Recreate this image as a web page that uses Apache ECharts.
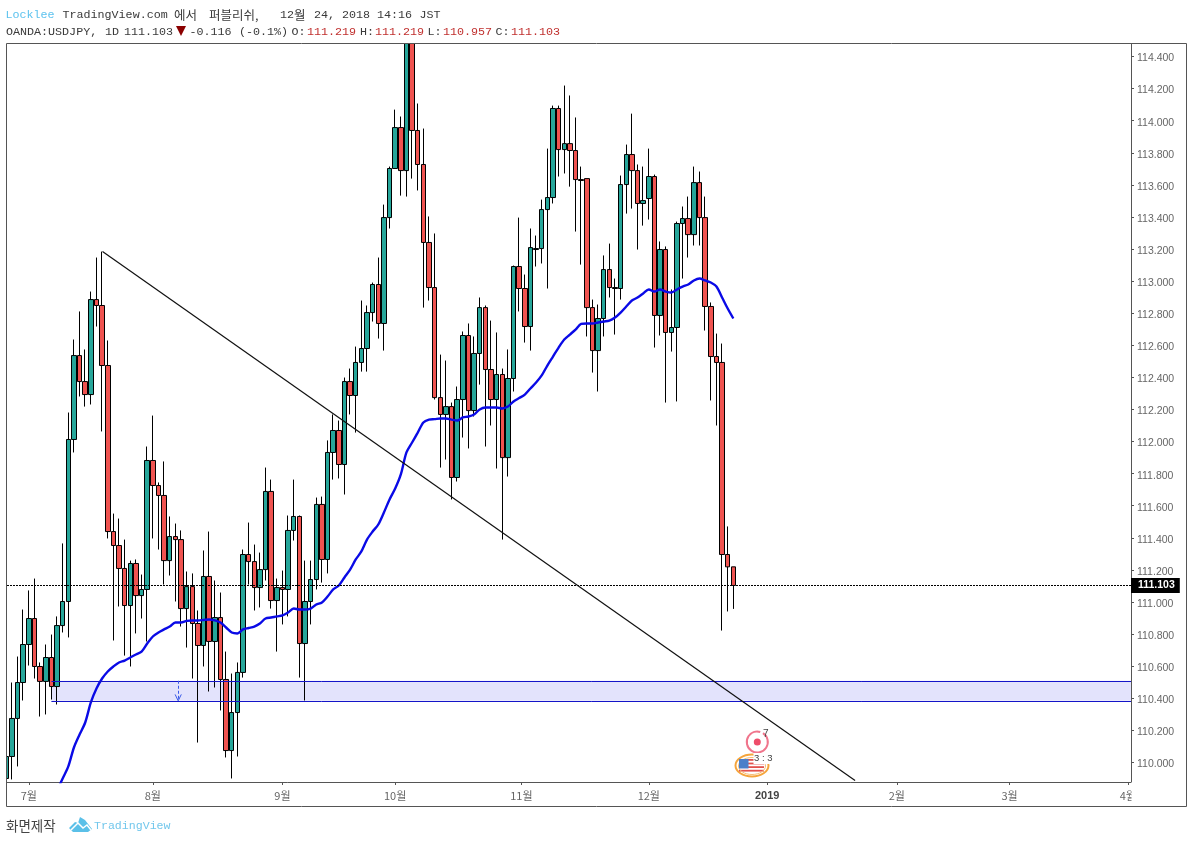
<!DOCTYPE html>
<html>
<head>
<meta charset="utf-8">
<title>USDJPY 1D</title>
<script src="https://cdn.jsdelivr.net/npm/echarts@6/dist/echarts.min.js"></script>
<style>html,body{margin:0;padding:0;background:#fff}#chart{width:1188px;height:843px}</style>
</head>
<body>
<div id="chart"></div>
<script>
// Daily OANDA:USDJPY bars; firstBar is the bar index of the first entry, 0 = 2 July 2018
const firstBar = -4;
const opens = [109.900,110.037,110.274,110.498,110.735,110.897,110.598,110.505,110.654,110.473,110.853,111.003,112.013,112.536,112.374,112.293,112.885,112.848,112.474,111.439,111.352,111.209,110.978,111.240,111.040,111.078,111.882,111.726,111.664,111.258,111.408,111.389,110.959,111.096,110.866,110.729,111.159,110.754,110.903,110.517,110.074,110.311,110.561,111.296,111.252,111.090,111.202,111.689,111.009,111.090,111.078,111.446,111.533,110.741,111.003,111.140,111.608,111.265,111.932,112.069,111.857,112.374,112.287,112.493,112.580,112.804,112.979,112.736,113.396,113.702,113.957,113.689,114.520,113.939,113.727,113.241,112.960,112.274,112.169,112.218,111.776,112.262,112.661,112.193,112.549,112.835,112.449,112.262,112.418,111.900,112.393,113.091,112.954,112.717,113.197,113.203,113.446,113.521,114.076,113.820,113.857,113.814,113.633,113.639,112.835,112.567,112.767,113.072,112.960,112.954,113.602,113.789,113.689,113.484,113.515,113.652,112.786,113.197,112.680,112.711,113.359,113.390,113.290,113.614,113.396,112.842,112.530,112.493,111.296,111.219];
const closes = [110.037,110.274,110.498,110.735,110.897,110.598,110.505,110.654,110.473,110.853,111.003,112.013,112.536,112.374,112.293,112.885,112.848,112.474,111.439,111.352,111.209,110.978,111.240,111.040,111.078,111.882,111.726,111.664,111.258,111.408,111.389,110.959,111.096,110.866,110.729,111.159,110.754,110.903,110.517,110.074,110.311,110.561,111.296,111.252,111.090,111.202,111.689,111.009,111.090,111.078,111.446,111.533,110.741,111.003,111.140,111.608,111.265,111.932,112.069,111.857,112.374,112.287,112.493,112.580,112.804,112.979,112.736,113.396,113.702,113.957,113.689,114.520,113.939,113.727,113.241,112.960,112.274,112.169,112.218,111.776,112.262,112.661,112.193,112.549,112.835,112.449,112.262,112.418,111.900,112.393,113.091,112.954,112.717,113.209,113.203,113.446,113.521,114.076,113.820,113.857,113.814,113.633,113.627,112.835,112.567,112.767,113.072,112.960,112.954,113.602,113.789,113.689,113.484,113.502,113.652,112.786,113.197,112.680,112.711,113.359,113.390,113.290,113.614,113.396,112.842,112.530,112.493,111.296,111.219,111.103];
const lows = [109.885,109.894,109.975,110.386,110.604,110.523,110.286,110.299,110.392,110.361,110.810,110.779,111.932,112.281,112.218,112.231,112.717,112.063,111.396,110.760,110.972,110.666,110.598,110.804,110.897,110.754,111.396,111.327,111.109,111.165,111.003,110.847,110.716,110.523,110.124,110.598,110.442,110.467,110.324,110.031,109.900,110.037,110.529,111.109,110.947,110.966,111.134,110.959,110.691,110.860,110.910,111.383,110.529,110.386,110.860,111.078,111.121,111.178,111.763,111.770,111.670,112.169,112.056,112.436,112.436,112.748,112.642,112.567,113.328,113.702,113.533,113.527,113.639,113.565,112.835,112.879,112.262,111.838,111.888,111.639,111.751,112.025,111.957,112.156,112.355,111.969,112.100,111.832,111.389,111.782,112.312,112.811,112.617,112.567,113.091,113.110,112.954,113.484,113.652,113.671,113.589,113.309,113.103,112.655,112.430,112.312,112.655,112.898,112.667,112.885,113.421,113.452,113.197,113.346,113.384,112.586,112.661,112.243,112.561,112.250,113.016,113.147,113.222,113.222,112.692,112.256,112.100,110.822,110.941,110.957];
const highs = [110.112,110.498,110.660,110.953,111.072,111.146,110.623,110.735,110.797,110.910,111.365,112.181,112.636,112.811,112.574,112.935,113.147,113.184,112.630,111.551,111.520,111.389,111.258,111.265,111.171,111.969,112.162,111.745,111.876,111.533,111.489,111.446,111.190,111.178,110.947,111.321,111.439,111.134,111.059,110.691,110.554,110.623,111.327,111.495,111.358,111.308,111.838,111.763,111.146,111.196,111.539,111.763,111.539,111.258,111.258,111.651,111.657,112.007,112.169,112.131,112.399,112.455,112.592,112.879,112.848,112.991,113.147,113.477,113.714,114.069,114.026,114.600,114.620,114.107,113.951,113.403,113.297,112.542,112.505,112.243,112.343,112.686,112.736,112.655,112.898,112.848,112.754,112.680,112.455,112.574,113.097,113.396,113.041,113.328,113.284,113.508,113.826,114.094,114.094,114.219,114.157,114.020,113.714,113.639,112.885,112.854,113.160,113.234,113.016,113.658,113.851,114.044,113.727,113.714,113.826,113.664,113.247,113.216,112.948,113.371,113.465,113.527,113.714,113.683,113.527,112.867,112.673,112.611,111.471,111.219];

// 50-period moving average, starting at bar 5
const maFirstBar = 5;
const ma50 = [109.825,109.900,109.975,110.093,110.174,110.249,110.374,110.461,110.523,110.567,110.598,110.623,110.635,110.654,110.673,110.691,110.741,110.785,110.810,110.829,110.847,110.872,110.872,110.882,110.885,110.885,110.888,110.891,110.885,110.872,110.841,110.810,110.804,110.829,110.838,110.847,110.866,110.897,110.903,110.910,110.916,110.935,110.959,110.953,110.953,110.959,110.984,110.997,111.034,111.078,111.103,111.153,111.202,111.265,111.315,111.389,111.439,111.483,111.558,111.639,111.707,111.795,111.932,111.994,112.056,112.119,112.137,112.140,112.144,112.144,112.137,112.131,112.150,112.156,112.169,112.200,112.212,112.212,112.212,112.206,112.218,112.250,112.271,112.293,112.331,112.368,112.412,112.474,112.530,112.586,112.636,112.667,112.698,112.733,112.736,112.736,112.742,112.748,112.754,112.773,112.804,112.842,112.879,112.898,112.923,112.948,112.935,112.948,112.935,112.929,112.948,112.966,112.979,113.004,113.016,113.004,112.991,112.966,112.898,112.829,112.767];

// Month ticks on the bar axis
const monthTickBars = [0,22,45,65,87.4,110,131,154,174,195];
const monthTickLabels = ['7월','8월','9월','10월','11월','12월','2019','2월','3월','4월'];

// Price axis
const priceTicks = [110,110.2,110.4,110.6,110.8,111,111.2,111.4,111.6,111.8,112,112.2,112.4,112.6,112.8,113,113.2,113.4,113.6,113.8,114,114.2,114.4];
const lastPrice = 111.103;

// Hand-drawn objects: trend line, support zone, alert arrow
const trendFrom = [13.07,113.184];
const trendTo = [146.6,109.887];
const zoneStartBar = 4;
const zoneTop = 110.509;
const zoneBottom = 110.384;
const arrowBar = 26.5;

const barMin = -3.877, barMax = 195.56, priceMin = 109.878, priceMax = 114.478;

const candles = opens.map((o, k) => [firstBar + k, o, closes[k], lows[k], highs[k]]);
const maLine = ma50.map((v, k) => [maFirstBar + k, v]);

const MONO = '"Liberation Mono", monospace';
const KR = '"Noto Sans CJK KR", sans-serif';
const SANS = '"Liberation Sans", Arial, sans-serif';
const DARK = '#3a3a3a', RED = '#c0302e', SKY = '#5cc2ee';

function t(text, x, y, fill, font) {
  return { type: 'text', z: 100, silent: true, x: x, y: y, style: { text: text, fill: fill || DARK, font: font || '11.7px ' + MONO, textVerticalAlign: 'middle' } };
}

const headerTexts = [
  t('Locklee', 5.5, 15, SKY), t('TradingView.com', 62.5, 15),
  t('에서', 174, 15, DARK, '12.5px ' + KR), t('퍼블리쉬,', 209, 15, DARK, '12.5px ' + KR),
  t('12', 280, 15), t('월', 294, 15, DARK, '12.5px ' + KR), t('24,', 314, 15), t('2018', 342, 15), t('14:16', 377, 15), t('JST', 419.5, 15),
  t('OANDA:USDJPY,', 6, 31.5), t('1D', 105, 31.5), t('111.103', 124, 31.5),
  t('-0.116', 189.5, 31.5), t('(-0.1%)', 239, 31.5),
  t('O:', 291.5, 31.5), t('111.219', 307, 31.5, RED),
  t('H:', 360, 31.5), t('111.219', 375, 31.5, RED),
  t('L:', 427.5, 31.5), t('110.957', 443, 31.5, RED),
  t('C:', 495.5, 31.5), t('111.103', 511, 31.5, RED)
];

const flagStripes = [0, 1, 2, 3].map(k => ({
  type: 'rect', z: 90, silent: true,
  shape: { x: 739, y: 759 + k * 3.6, width: 25, height: 1.8 }, style: { fill: '#e2514c' }
}));

const graphics = [
  // masks that keep the candles inside the plot, and the corner under the price axis
  { type: 'rect', z: 80, silent: true, shape: { x: 0, y: 0, width: 1188, height: 43 }, style: { fill: '#fff' } },
  { type: 'rect', z: 80, silent: true, shape: { x: 0, y: 43, width: 6.5, height: 770 }, style: { fill: '#fff' } },
  { type: 'rect', z: 80, silent: true, shape: { x: 1131.5, y: 782.5, width: 54, height: 23 }, style: { fill: '#fff' } },
  { type: 'rect', z: 95, silent: true, shape: { x: 6.5, y: 43.5, width: 1180, height: 763 }, style: { fill: 'none', stroke: '#555', lineWidth: 1 } },
  { type: 'polygon', z: 100, silent: true, shape: { points: [[176, 26], [186, 26], [181, 36]] }, style: { fill: '#8b0000' } },
  // earnings and economic-event markers
  { type: 'arc', z: 90, silent: true, shape: { cx: 757.3, cy: 742, r: 10.5, startAngle: -1.0, endAngle: 5.0 }, style: { fill: 'none', stroke: '#f0758c', lineWidth: 2 } },
  { type: 'circle', z: 90, silent: true, shape: { cx: 757.3, cy: 742, r: 3.5 }, style: { fill: '#ee4d6a' } },
  t('7', 763, 734, '#444', '10px ' + SANS),
  { type: 'ellipse', z: 89, silent: true, shape: { cx: 752, cy: 765.5, rx: 16.5, ry: 11 }, style: { fill: '#fff', stroke: '#f5a53c', lineWidth: 2 } },
  ...flagStripes,
  { type: 'ellipse', z: 90, silent: true, shape: { cx: 752, cy: 766, rx: 13.5, ry: 8.5 }, style: { fill: 'none', stroke: '#f7bd74', lineWidth: 1 } },
  { type: 'rect', z: 91, silent: true, shape: { x: 739, y: 759, width: 9.5, height: 9.5 }, style: { fill: '#4a7fc9' } },
  { type: 'rect', z: 92, silent: true, shape: { x: 753.5, y: 753, width: 19, height: 11 }, style: { fill: '#fff' } },
  t('3 : 3', 754, 758.5, '#444', '9.5px ' + SANS),
  // footer
  t('화면제작', 6, 826, '#444', '13.5px ' + KR),
  { type: 'polygon', z: 100, silent: true, shape: { points: [[69, 828], [75, 822], [78, 823], [80, 817], [85, 820], [92, 829], [88, 832], [73, 832]] }, style: { fill: '#5bc0e8' } },
  { type: 'polyline', z: 101, silent: true, shape: { points: [[71, 830], [78, 823], [83, 828], [87, 825], [91, 830]] }, style: { fill: 'none', stroke: '#fff', lineWidth: 1.5 } },
  t('TradingView', 94, 826, '#72c7ec', '11.6px ' + MONO),
  ...headerTexts
];

const chart = echarts.init(document.getElementById('chart'), null, { renderer: 'canvas' });
chart.setOption({
  animation: false,
  backgroundColor: '#ffffff',
  grid: { left: 7, right: 57, top: 44, bottom: 61, containLabel: false },
  xAxis: {
    type: 'value', min: barMin, max: barMax, splitLine: { show: false },
    axisLine: { onZero: false, lineStyle: { color: '#555', width: 1 } },
    axisTick: { length: 3, lineStyle: { color: '#555' }, customValues: monthTickBars },
    axisLabel: {
      customValues: monthTickBars, margin: 8, color: '#666', fontSize: 11, fontFamily: KR,
      formatter: v => {
        const s = monthTickLabels[monthTickBars.indexOf(v)];
        return s === '2019' ? '{b|2019}' : s;
      },
      rich: { b: { fontWeight: 'bold', color: '#444', fontSize: 11, fontFamily: SANS } }
    }
  },
  yAxis: {
    type: 'value', position: 'right', min: priceMin, max: priceMax, scale: true, splitLine: { show: false },
    axisLine: { show: true, onZero: false, lineStyle: { color: '#555', width: 1 } },
    axisTick: { show: true, length: 3, lineStyle: { color: '#555' }, customValues: priceTicks },
    axisLabel: {
      customValues: priceTicks, margin: 6, color: '#666', fontSize: 10.5, fontFamily: SANS,
      verticalAlign: 'top', lineHeight: 9,
      formatter: v => '{p|' + v.toFixed(3) + '}',
      rich: { p: { color: '#666', fontSize: 10.5, fontFamily: SANS, lineHeight: 9, padding: [-5, 0, 0, 0] } }
    }
  },
  series: [
    {
      name: 'USDJPY', type: 'candlestick', data: candles, barWidth: 5, z: 3,
      itemStyle: { color: '#26a69a', color0: '#ef5350', borderColor: '#000', borderColor0: '#000', borderColorDoji: '#000', borderWidth: 1 }
    },
    {
      name: 'MA50', type: 'line', data: maLine, showSymbol: false, smooth: 0.3, z: 4,
      lineStyle: { color: '#0a0ae6', width: 2.4 }
    },
    {
      name: 'Trend', type: 'line', data: [trendFrom, trendTo], showSymbol: false, z: 5,
      lineStyle: { color: '#111', width: 1.2 }
    },
    {
      name: 'Zone', type: 'line', data: [], z: 6,
      markArea: {
        silent: true, itemStyle: { color: 'rgba(60,60,235,0.14)', borderWidth: 0 },
        data: [[{ coord: [zoneStartBar, zoneTop] }, { coord: [barMax, zoneBottom] }]]
      },
      markLine: {
        silent: true, symbol: 'none', animation: false, label: { show: false },
        lineStyle: { color: '#1414c8', width: 1, type: 'solid' },
        data: [
          [{ coord: [zoneStartBar, zoneTop] }, { coord: [barMax, zoneTop] }],
          [{ coord: [zoneStartBar, zoneBottom] }, { coord: [barMax, zoneBottom] }],
          [{ coord: [arrowBar, zoneTop], lineStyle: { color: '#3a5ae8', type: [3, 2] } }, { coord: [arrowBar, zoneBottom] }],
          [{ coord: [arrowBar - 0.55, zoneBottom + 0.04], lineStyle: { color: '#3a5ae8' } }, { coord: [arrowBar, zoneBottom] }],
          [{ coord: [arrowBar + 0.55, zoneBottom + 0.04], lineStyle: { color: '#3a5ae8' } }, { coord: [arrowBar, zoneBottom] }]
        ]
      }
    },
    {
      name: 'Last', type: 'line', data: [], z: 7,
      markLine: {
        silent: true, symbol: 'none', animation: false,
        lineStyle: { color: '#000', width: 1, type: [2, 1] },
        label: {
          show: true, position: 'end', distance: 0, formatter: () => lastPrice.toFixed(3),
          backgroundColor: '#000', color: '#fff', fontWeight: 'bold', fontSize: 10.5, fontFamily: SANS, padding: [2, 5, 2, 7]
        },
        data: [[{ coord: [barMin, lastPrice] }, { coord: [barMax, lastPrice] }]]
      }
    }
  ],
  graphic: graphics
});
</script>
</body>
</html>
